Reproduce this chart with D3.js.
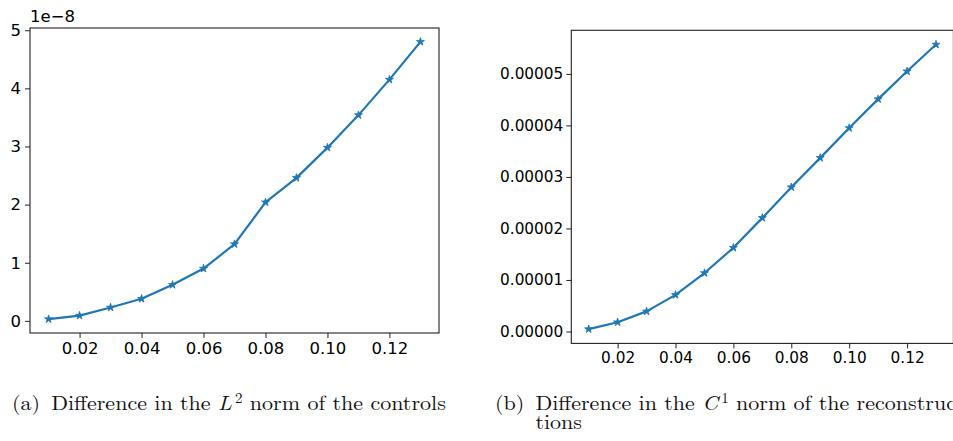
<!DOCTYPE html>
<html>
<head>
<meta charset="utf-8">
<script src="https://cdn.jsdelivr.net/npm/d3@7"></script>
<style>
  body { margin: 0; background: #fff; }
  svg { display: block; }
</style>
</head>
<body>
<svg id="chart" width="953" height="441"></svg>
<script>
// step sizes on the x axis (same for both panels)
const steps = [0.01, 0.02, 0.03, 0.04, 0.05, 0.06, 0.07, 0.08, 0.09, 0.10, 0.11, 0.12, 0.13];
// (a) L2 difference of the controls, in units of 1e-8
const l2Diff = [0.03, 0.09, 0.23, 0.38, 0.62, 0.90, 1.32, 2.04, 2.46, 2.98, 3.54, 4.15, 4.80];
// (b) C1 difference of the reconstructions
const c1Diff = [0.00000045, 0.0000018, 0.0000039, 0.0000071, 0.00001135, 0.00001625, 0.00002205,
                0.0000280, 0.0000337, 0.0000395, 0.0000451, 0.0000505, 0.0000557];
const xTicks = [0.02, 0.04, 0.06, 0.08, 0.10, 0.12];
const yTicksA = [0, 1, 2, 3, 4, 5];
const yTicksB = [0, 0.00001, 0.00002, 0.00003, 0.00004, 0.00005];

const BLUE = "#1f77b4";
const svg = d3.select("#chart");

// matplotlib-like 5% padding
function padded(vals) {
    var lo = d3.min(vals), hi = d3.max(vals), m = (hi - lo) * 0.05;
    return [lo - m, hi + m];
}

function drawPanel(opts) {
    var x = d3.scaleLinear().domain(padded(steps)).range([opts.left, opts.right]);
    var y = d3.scaleLinear().domain(padded(opts.values)).range([opts.bottom, opts.top]);
    var g = svg.append("g");

    var xAxis = g.append("g")
        .attr("transform", "translate(0," + opts.bottom + ")")
        .call(d3.axisBottom(x).tickValues(xTicks).tickFormat(d3.format(".2f")).tickSize(5).tickPadding(4));
    var yAxis = g.append("g")
        .attr("transform", "translate(" + opts.left + ",0)")
        .call(d3.axisLeft(y).tickValues(opts.yTicks).tickFormat(opts.yFormat).tickSize(5).tickPadding(opts.yPad));
    [xAxis, yAxis].forEach(function(a) {
        a.select(".domain").remove();
        a.selectAll("line").attr("stroke", "#222").attr("stroke-width", 1);
        a.selectAll("text")
            .attr("fill", "#000")
            .style("font-family", "DejaVu Sans")
            .style("font-size", opts.fontSize + "px");
    });

    // frame
    g.append("rect")
        .attr("x", opts.left).attr("y", opts.top)
        .attr("width", opts.right - opts.left).attr("height", opts.bottom - opts.top)
        .attr("fill", "none").attr("stroke", "#222").attr("stroke-width", 1.1);

    var line = d3.line().x((d, i) => x(steps[i])).y(d => y(d));
    g.append("path")
        .datum(opts.values)
        .attr("d", line)
        .attr("fill", "none")
        .attr("stroke", BLUE)
        .attr("stroke-width", 2.2)
        .attr("stroke-linejoin", "round");

    var star = d3.symbol().type(d3.symbolStar).size(20);
    g.selectAll("path.pt")
        .data(opts.values)
        .join("path")
        .attr("class", "pt")
        .attr("d", star)
        .attr("transform", (d, i) => "translate(" + x(steps[i]) + "," + y(d) + ")")
        .attr("fill", BLUE)
        .attr("stroke", BLUE)
        .attr("stroke-width", 0.8);
    return g;
}

var gA = drawPanel({
    left: 30, right: 439, top: 28, bottom: 333,
    values: l2Diff, yTicks: yTicksA, yFormat: d3.format("d"),
    fontSize: 16.5, yPad: 4
});
gA.append("text")
    .attr("x", 30).attr("y", 22)
    .style("font-family", "DejaVu Sans").style("font-size", "16.5px")
    .attr("fill", "#000")
    .text("1e\u22128");

drawPanel({
    left: 571.3, right: 953.4, top: 30.3, bottom: 343.4,
    values: c1Diff, yTicks: yTicksB, yFormat: d3.format(".5f"),
    fontSize: 15.3, yPad: 3
});

// captions
var capFont = "'Latin Modern Roman', 'CMU Serif', 'Liberation Serif', serif";
var capSize = 20.5;
function caption(label, sym, sup, rest) {
    var t = svg.append("text")
        .style("font-family", capFont).style("font-size", capSize + "px")
        .attr("fill", "#111");
    t.append("tspan").text(label + "\u2002");
    t.append("tspan").text("Difference in the ");
    t.append("tspan").style("font-style", "italic").text(sym);
    t.append("tspan").attr("dx", 3).attr("dy", -7.5).style("font-size", "14px").text(sup);
    t.append("tspan").attr("dy", 7.5).text(" " + rest);
    return t;
}
var capA = caption("(a)", "L", "2", "norm of the controls");
var capB = caption("(b)", "C", "1", "norm of the reconstruc");
var sx = 431 / capA.node().getComputedTextLength();
capA.attr("transform", "translate(12,410) scale(" + sx + ",1)");
capB.attr("transform", "translate(495,410) scale(" + sx + ",1)");
var indent = capB.node().getSubStringLength(0, 4);
svg.append("text")
    .attr("transform", "translate(" + (495 + indent * sx) + ",429) scale(" + sx + ",1)")
    .style("font-family", capFont).style("font-size", capSize + "px")
    .attr("fill", "#111")
    .text("tions");
</script>
</body>
</html>
